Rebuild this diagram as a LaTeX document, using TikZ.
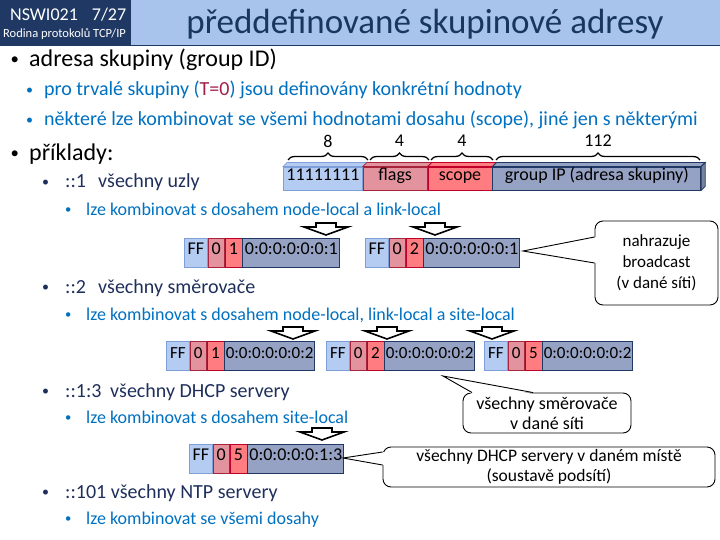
\documentclass[tikz,border=0pt]{standalone}
\usepackage{fontspec}
\usepackage{graphicx}
\setmainfont{Carlito}
\usetikzlibrary{positioning,decorations.pathreplacing}
\definecolor{hdnavy}{HTML}{1F3864}
\definecolor{hdband}{HTML}{A8C4EC}
\definecolor{ttlblue}{HTML}{17375E}
\definecolor{txtblue}{HTML}{0070C0}
\definecolor{txtnavy}{HTML}{1F2F5C}
\definecolor{tred}{HTML}{A0204A}
\definecolor{ffblue}{HTML}{B4CBF2}
\definecolor{ffline}{HTML}{7F9FD8}
\definecolor{flpink}{HTML}{E2939E}
\definecolor{flline}{HTML}{A6243C}
\definecolor{scred}{HTML}{FF7C80}
\definecolor{scline}{HTML}{C0002A}
\definecolor{gidslate}{HTML}{96A2C3}
\definecolor{gidline}{HTML}{1F3864}
\newcommand{\bul}[1]{\makebox[#1][l]{\raisebox{.09em}{\scalebox{.7}{\textbullet}}}}

\begin{document}
\begin{tikzpicture}[x=1pt, y=-1pt,
    lone/.style={anchor=base west, inner sep=0, font=\fontsize{24}{24}\selectfont},
    ltwo/.style={anchor=base west, inner sep=0, text=txtblue, font=\fontsize{20}{20}\selectfont},
    lex/.style={anchor=base west, inner sep=0, text=txtnavy, font=\fontsize{20}{20}\selectfont},
    lsub/.style={anchor=base west, inner sep=0, text=txtblue, font=\fontsize{18}{18}\selectfont},
    fld/.style={draw, line width=0.8, minimum height=29, inner xsep=1, inner ysep=0, text height=.66em, text depth=.18em,
      font=\fontsize{18}{18}\selectfont},
    bar/.style={minimum height=23},
    ffb/.style={fld, fill=ffblue, draw=ffline, minimum width=23},
    flb/.style={fld, fill=flpink, draw=flline, minimum width=16},
    scb/.style={fld, fill=scred, draw=scline, minimum width=17},
    gidb/.style={fld, fill=gidslate, draw=gidline},
    co/.style={draw, rounded corners=8, line width=0.9, fill=white, align=center, inner sep=0, font=\fontsize{18}{20}\selectfont},
    dnarrow/.pic={\draw[fill=white, line width=1.6] (-10,0) -- (10,0) -- (10,4) -- (22,4) -- (0,12) -- (-22,4) -- (-10,4) -- cycle;}]
  \useasboundingbox (0,0) rectangle (720,540);

  % header
  \fill[hdnavy] (0,0) rectangle (131,45);
  \fill[hdband] (131,0) rectangle (720,45);
  \draw[hdnavy, line width=1.5] (0,45.5) -- (720,45.5);
  \node[anchor=base west, inner sep=0, text=white, font=\fontsize{18}{18}\selectfont] (crs) at (10,21) {NSWI021\hspace{14pt}7/27};
  \node[anchor=base west, inner sep=0, text=white, font=\fontsize{12.5}{12.5}\selectfont] (lect) at (3,38) {Rodina protokolů TCP/IP};
  \node[anchor=base, inner sep=0, text=ttlblue, font=\fontsize{35}{35}\selectfont] (ttl) at (425,34) {předdefinované skupinové adresy};

  % bullets
  \node[lone] (grp) at (10.5,67) {\bul{18.5pt}adresa skupiny (group ID)};
  \node[ltwo] (perm) at (26,96) {\bul{18pt}pro trvalé skupiny ({\color{tred}T=0}) jsou definovány konkrétní hodnoty};
  \node[ltwo] (comb) at (26,126) {\bul{18pt}některé lze kombinovat se všemi hodnotami dosahu (scope), jiné jen s některými};
  \node[lone] (exm) at (10.5,161) {\bul{18.5pt}příklady:};
  \node[lex] (ex1) at (42,188) {\bul{23pt}\makebox[33pt][l]{::1}všechny uzly};
  \node[lsub] (ex1s) at (65,215) {\bul{21pt}lze kombinovat s dosahem node-local a link-local};
  \node[lex] (ex2) at (42,293) {\bul{23pt}\makebox[33pt][l]{::2}všechny směrovače};
  \node[lsub] (ex2s) at (65,320) {\bul{21pt}lze kombinovat s dosahem node-local, link-local a site-local};
  \node[lex] (ex3) at (42,397) {\bul{23pt}\makebox[45pt][l]{::1:3}všechny DHCP servery};
  \node[lsub] (ex3s) at (65,423) {\bul{21pt}lze kombinovat s dosahem site-local};
  \node[lex] (ex4) at (42,498) {\bul{23pt}::101 všechny NTP servery};
  \node[lsub] (ex4s) at (65,524) {\bul{21pt}lze kombinovat se všemi dosahy};

  % address layout
  \node[ffb, bar, minimum width=79, anchor=west] (b8) at (283,178.5) {11111111};
  \node[flb, bar, minimum width=64, right=0 of b8] (bfl) {flags};
  \node[scb, bar, minimum width=64, right=0 of bfl] (bsc) {scope};
  \node[gidb, bar, minimum width=208, right=0 of bsc] (bgid) {group IP (adresa skupiny)};
  \foreach \n/\c/\l in {b8/ffblue/ffline, bfl/flpink/flline, bsc/scred/scline, bgid/gidslate/gidline}
    \draw[fill=\c, draw=\l, line width=0.8] (\n.north west) -- ++(4,-4) -- ([shift={(4,-4)}]\n.north east) -- (\n.north east) -- cycle;
  \draw[fill=gidslate!80!black, draw=gidline, line width=0.8] (bgid.north east) -- ++(4,-4) -- ([shift={(4,-4)}]bgid.south east) -- (bgid.south east) -- cycle;
  \foreach \a/\b/\nm/\val in {288/368/w8/8, 370/429/wfl/4, 431/493/wsc/4, 496/700/wgid/112} {
    \draw[decorate, decoration={brace, amplitude=7}, line width=1.3] (\a,160) -- (\b,160);
    \node[font=\fontsize{18}{18}\selectfont] (\nm) at ({(\a+\b)/2},141) {\val};
  }

  % examples
  \foreach \nm/\xx/\yy/\dg/\tl/\tw/\fs in {r1a/184/252.5/1/0:0:0:0:0:0:1/97/18, r1b/365/252.5/2/0:0:0:0:0:0:1/96/18,
      r2a/166/356/1/0:0:0:0:0:0:2/88/17, r2b/326/356/2/0:0:0:0:0:0:2/88/17, r2c/484/356/5/0:0:0:0:0:0:2/88/17,
      r3a/189/458.5/5/0:0:0:0:0:1:3/96/18} {
    \node[ffb, font=\fontsize{\fs}{\fs}\selectfont, anchor=west] (\nm ff) at (\xx,\yy) {FF};
    \node[flb, font=\fontsize{\fs}{\fs}\selectfont, right=0 of \nm ff] (\nm fl) {0};
    \node[scb, font=\fontsize{\fs}{\fs}\selectfont, right=0 of \nm fl] (\nm sc) {\dg};
    \node[gidb, font=\fontsize{\fs}{\fs}\selectfont, minimum width=\tw, right=0 of \nm sc] (\nm gid) {\tl};
  }
  \pic (a1) at (326,223) {dnarrow};
  \pic (a2) at (435,223) {dnarrow};
  \pic (a3) at (293,327) {dnarrow};
  \pic (a4) at (387,327) {dnarrow};
  \pic (a5) at (492,327) {dnarrow};
  \pic (a6) at (322,428) {dnarrow};

  % callouts
  \node[co, minimum width=123, minimum height=84, font=\fontsize{17}{21}\selectfont] (bcast) at (656.5,263) {nahrazuje\\broadcast\\(v dané síti)};
  \coordinate (bctip) at (523,251);
  \fill[white] (bctip) -- ([shift={(1.5,-26)}]bcast.west) -- ([shift={(1.5,0)}]bcast.west) -- cycle;
  \draw[line width=0.9] ([shift={(0,-26)}]bcast.west) -- (bctip) -- (bcast.west);

  \node[co, minimum width=168, minimum height=40] (allrt) at (547,413) {všechny směrovače\\v dané síti};
  \coordinate (rttip) at (443,376);
  \fill[white] (rttip) -- ([shift={(-75,1.5)}]allrt.north) -- ([shift={(-14,1.5)}]allrt.north) -- cycle;
  \draw[line width=0.9] ([shift={(-75,0)}]allrt.north) -- (rttip) -- ([shift={(-14,0)}]allrt.north);

  \node[co, minimum width=332, minimum height=40, font=\fontsize{17.5}{20}\selectfont] (alldh) at (549,467) {všechny DHCP servery v daném místě\\(soustavě podsítí)};
  \coordinate (dhtip) at (343,458);
  \fill[white] (dhtip) -- ([shift={(1.5,-15)}]alldh.west) -- ([shift={(1.5,-2)}]alldh.west) -- cycle;
  \draw[line width=0.9] ([shift={(0,-15)}]alldh.west) -- (dhtip) -- ([shift={(0,-2)}]alldh.west);
\end{tikzpicture}
\end{document}
